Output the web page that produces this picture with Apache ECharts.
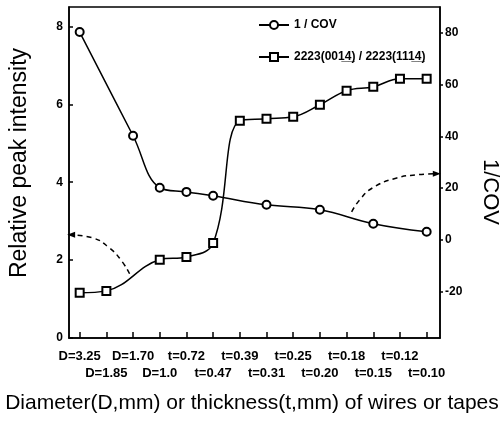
<!DOCTYPE html>
<html><head><meta charset="utf-8">
<script src="https://cdn.jsdelivr.net/npm/echarts@6/dist/echarts.min.js"></script>
<style>html,body{margin:0;padding:0;background:#fff}#c{width:503px;height:434px}</style>
</head><body><div id="c"></div>
<script>
// Categories along the x axis (wire diameter D or tape thickness t, mm)
var categories = ['D=3.25','D=1.85','D=1.70','D=1.0','t=0.72','t=0.47','t=0.39','t=0.31','t=0.25','t=0.20','t=0.18','t=0.15','t=0.12','t=0.10'];
// 1/COV (right axis); null where no point was plotted
var covValues = [80.3, null, 40.2, 20.1, 18.5, 17.0, null, 13.5, null, 11.6, null, 6.2, null, 3.1];
// Relative peak intensity 2223(0014)/2223(1114) (left axis)
var ratioValues = [1.16, 1.21, null, 2.01, 2.08, 2.44, 5.58, 5.63, 5.68, 5.99, 6.35, 6.45, 6.66, 6.66];
// Left/right tick labels
var leftTicks = [0, 2, 4, 6, 8];
var rightTicks = [-20, 0, 20, 40, 60, 80];
// Dashed annotation arrows: [category position, value]
var leftArrow = [[1.87, 1.65], [1.57, 1.98], [1.12, 2.31], [0.49, 2.57], [-0.32, 2.65]];
var rightArrow = [[10.19, 10.8], [10.49, 15.4], [10.98, 20.1], [11.88, 23.9], [12.63, 25.1], [13.38, 25.5]];

var covName = '1 / COV';
var ratioName = '2223(001\u03324\u0332) / 2223(111\u03324\u0332)';

function pairs(vals) {
  var out = [];
  vals.forEach(function (v, i) { if (v !== null) out.push([i, v]); });
  return out;
}
function arrowData(pts, rot) {
  return pts.map(function (p, i) {
    if (i === pts.length - 1) return { value: p, symbol: 'triangle', symbolSize: [6, 8], symbolRotate: rot };
    return { value: p };
  });
}
var catIdx = categories.map(function (c, i) { return i; });
var evenIdx = catIdx.filter(function (i) { return i % 2 === 0; });
var oddIdx = catIdx.filter(function (i) { return i % 2 === 1; });

var FONT = 'Liberation Sans, Arial, sans-serif';
var labelStyle = { fontFamily: FONT, fontSize: 13, fontWeight: 'bold', color: '#000',
  formatter: function (v) { return categories[Math.round(v)]; } };
var chart = echarts.init(document.getElementById('c'), null, { renderer: 'canvas' });
chart.setOption({
  animation: false,
  backgroundColor: '#fff',
  grid: { left: 69, right: 63, top: 7, bottom: 96, show: true, borderColor: '#000', borderWidth: 1.5, containLabel: false },
  legend: {
    orient: 'vertical', left: 253, top: 14, itemWidth: 30, itemHeight: 10, itemGap: 20,
    data: [covName, ratioName],
    textStyle: { fontFamily: FONT, fontSize: 12, fontWeight: 'bold', color: '#000' }
  },
  xAxis: [{
    type: 'value', min: -0.4, max: 13.5, position: 'bottom',
    splitLine: { show: false },
    axisLine: { onZero: false, lineStyle: { color: '#000', width: 1.5 } },
    axisTick: { inside: true, length: 6, customValues: catIdx, lineStyle: { color: '#000', width: 1.5 } },
    axisLabel: Object.assign({ customValues: evenIdx, margin: 12 }, labelStyle)
  }, {
    type: 'value', min: -0.4, max: 13.5, position: 'bottom',
    splitLine: { show: false },
    axisLine: { show: false, onZero: false },
    axisTick: { show: false },
    axisLabel: Object.assign({ customValues: oddIdx, margin: 29 }, labelStyle)
  }],
  yAxis: [{
    type: 'value', min: 0, max: 8.5, position: 'left',
    splitLine: { show: false },
    axisLine: { show: true, onZero: false, lineStyle: { color: '#000', width: 1.5 } },
    axisTick: { show: true, inside: true, length: 4, customValues: leftTicks, lineStyle: { color: '#000', width: 1.5 } },
    axisLabel: { customValues: leftTicks, margin: 6, fontFamily: FONT, fontSize: 12, fontWeight: 'bold', color: '#000' }
  }, {
    type: 'value', min: -38, max: 90, position: 'right',
    splitLine: { show: false },
    axisLine: { show: true, onZero: false, lineStyle: { color: '#000', width: 1.5 } },
    axisTick: { show: true, length: 3, customValues: rightTicks, lineStyle: { color: '#000', width: 1.5 } },
    axisLabel: { customValues: rightTicks, margin: 5, fontFamily: FONT, fontSize: 12, fontWeight: 'bold', color: '#000' }
  }],
  series: [{
    name: covName, type: 'line', yAxisIndex: 1, smooth: 0.4,
    data: pairs(covValues),
    symbol: 'emptyCircle', symbolSize: 8,
    lineStyle: { color: '#000', width: 1.5 },
    itemStyle: { color: '#000', borderColor: '#000', borderWidth: 1.5 }
  }, {
    name: ratioName, type: 'line', yAxisIndex: 0, smooth: 0.4,
    data: pairs(ratioValues),
    symbol: 'emptyRect', symbolSize: 8,
    lineStyle: { color: '#000', width: 1.5 },
    itemStyle: { color: '#000', borderColor: '#000', borderWidth: 1.5 }
  }, {
    name: 'arrowL', type: 'line', yAxisIndex: 0, smooth: 0.5,
    data: arrowData(leftArrow, 90), symbol: 'none', showSymbol: true,
    lineStyle: { color: '#000', width: 1.5, type: [5, 4] },
    itemStyle: { color: '#000' }
  }, {
    name: 'arrowR', type: 'line', yAxisIndex: 1, smooth: 0.5,
    data: arrowData(rightArrow, -90), symbol: 'none', showSymbol: true,
    lineStyle: { color: '#000', width: 1.5, type: [5, 4] },
    itemStyle: { color: '#000' }
  }],
  graphic: [
    { type: 'text', x: 20, y: 163, rotation: Math.PI / 2,
      style: { text: 'Relative peak intensity', font: '23px ' + FONT, fill: '#000', align: 'center', verticalAlign: 'middle' } },
    { type: 'text', x: 490, y: 192, rotation: -Math.PI / 2,
      style: { text: '1/COV', font: '22px ' + FONT, fill: '#000', align: 'center', verticalAlign: 'middle' } },
    { type: 'text', x: 252, y: 403,
      style: { text: 'Diameter(D,mm) or thickness(t,mm) of wires or tapes', font: '21px ' + FONT, fill: '#000', align: 'center', verticalAlign: 'middle' } }
  ]
});
</script>
</body></html>
